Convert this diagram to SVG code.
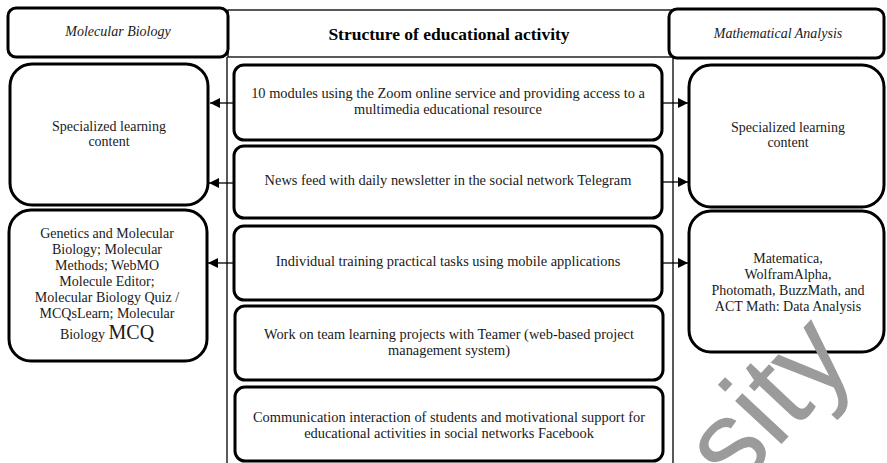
<svg xmlns="http://www.w3.org/2000/svg" width="887" height="463" viewBox="0 0 887 463">
<style>
.box{fill:#fff;stroke:#000;stroke-width:3}
.t{font-family:"Liberation Serif","Times New Roman",serif;font-size:14.4px;fill:#1a1a1a;text-anchor:middle}
.ts{font-family:"Liberation Serif","Times New Roman",serif;font-size:14px;fill:#1a1a1a;text-anchor:middle}
.tl{font-family:"Liberation Serif","Times New Roman",serif;font-size:14px;fill:#1a1a1a;text-anchor:middle}
.it{font-family:"Liberation Serif","Times New Roman",serif;font-size:14px;font-style:italic;fill:#1a1a1a;text-anchor:middle}
.frame{fill:none;stroke:#000;stroke-width:1.3}
.conn{stroke:#000;stroke-width:1.3;fill:none;marker-end:url(#ah)}
</style>
<defs>
<marker id="ah" viewBox="0 0 10 10" refX="10" refY="5" markerWidth="10" markerHeight="10" markerUnits="userSpaceOnUse" orient="auto">
<path d="M0,0 L10,5 L0,10 Z" fill="#000"/>
</marker>
</defs>
<rect width="887" height="463" fill="#fff"/>
<g id="frame">
<rect class="frame" x="228" y="10" width="444" height="47"/>
<line class="frame" x1="227" y1="57" x2="227" y2="463"/>
<line class="frame" x1="673" y1="57" x2="673" y2="463"/>
</g>
<g id="title">
<text x="449" y="40" style="font-family:'Liberation Serif','Times New Roman',serif;font-size:17.5px;font-weight:bold;text-anchor:middle;fill:#000">Structure of educational activity</text>
</g>
<g id="hdr-left">
<rect class="box" x="8" y="8" width="220" height="49" rx="8"/>
<text class="it" x="118" y="36">Molecular Biology</text>
</g>
<g id="hdr-right">
<rect class="box" x="669" y="9" width="215" height="49" rx="8"/>
<text class="it" x="778" y="38">Mathematical Analysis</text>
</g>
<g id="connectors">
<line class="conn" x1="234" y1="103" x2="210" y2="103"/>
<line class="conn" x1="234" y1="183" x2="209" y2="183"/>
<line class="conn" x1="234" y1="263" x2="208" y2="263"/>
<line class="conn" x1="662" y1="103" x2="688" y2="103"/>
<line class="conn" x1="662" y1="182" x2="688" y2="182"/>
<line class="conn" x1="662" y1="263" x2="688" y2="263"/>
</g>
<g id="left-1">
<rect class="box" x="10" y="64" width="198" height="141" rx="22"/>
<text class="ts" x="109" y="131">Specialized learning</text>
<text class="ts" x="109" y="146">content</text>
</g>
<g id="left-2">
<rect class="box" x="9" y="210" width="198" height="151" rx="22"/>
<text class="tl" x="107" y="238">Genetics and Molecular</text>
<text class="tl" x="107" y="254">Biology; Molecular</text>
<text class="tl" x="107" y="270">Methods; WebMO</text>
<text class="tl" x="107" y="286">Molecule Editor;</text>
<text class="tl" x="107" y="302">Molecular Biology Quiz /</text>
<text class="tl" x="107" y="318">MCQsLearn; Molecular</text>
<text class="tl" x="107" y="339">Biology <tspan style="font-size:20px">MCQ</tspan></text>
</g>
<g id="right-1">
<rect class="box" x="689" y="65" width="195" height="142" rx="22"/>
<text class="ts" x="788" y="132">Specialized learning</text>
<text class="ts" x="788" y="147">content</text>
</g>
<g id="right-2">
<rect class="box" x="689" y="211" width="195" height="141" rx="22"/>
<text class="tl" x="788" y="263">Matematica,</text>
<text class="tl" x="788" y="279">WolframAlpha,</text>
<text class="tl" x="788" y="295">Photomath, BuzzMath, and</text>
<text class="tl" x="788" y="311">ACT Math: Data Analysis</text>
</g>
<g id="mid-1">
<rect class="box" x="234" y="65" width="428" height="75" rx="10"/>
<text class="t" x="448" y="98">10 modules using the Zoom online service and providing access to a</text>
<text class="t" x="448" y="114">multimedia educational resource</text>
</g>
<g id="mid-2">
<rect class="box" x="234" y="146" width="428" height="72" rx="10"/>
<text class="t" x="448" y="185">News feed with daily newsletter in the social network Telegram</text>
</g>
<g id="mid-3">
<rect class="box" x="234" y="226" width="428" height="74" rx="10"/>
<text class="t" x="448" y="266">Individual training practical tasks using mobile applications</text>
</g>
<g id="mid-4">
<rect class="box" x="235" y="306" width="428" height="74" rx="10"/>
<text class="t" x="449" y="339">Work on team learning projects with Teamer (web-based project</text>
<text class="t" x="449" y="355">management system)</text>
</g>
<g id="mid-5">
<rect class="box" x="235" y="387" width="428" height="74" rx="10"/>
<text class="t" x="449" y="422">Communication interaction of students and motivational support for</text>
<text class="t" x="449" y="438">educational activities in social networks Facebook</text>
</g>
<g id="watermark">
<text x="0" y="0" transform="translate(735,494) rotate(-47)" style="font-family:'Liberation Sans',Arial,sans-serif;font-size:120px;fill:#9b9b9b">sity</text>
</g>
</svg>
